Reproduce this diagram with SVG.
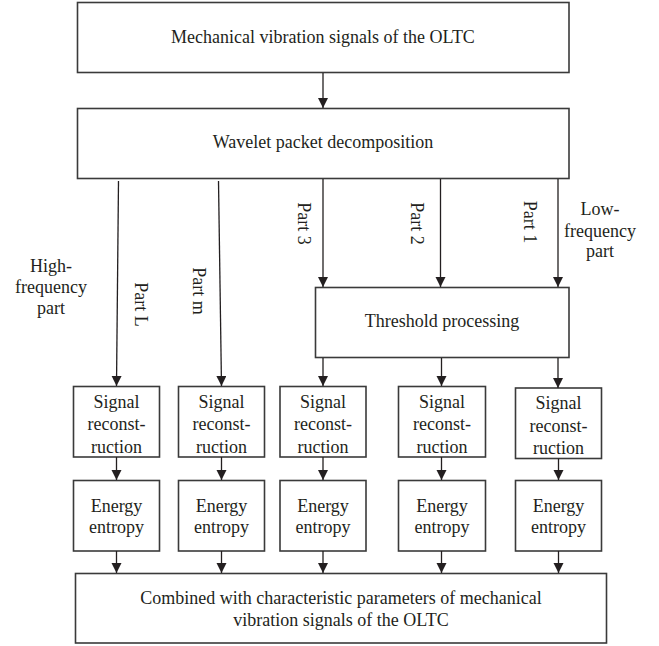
<svg xmlns="http://www.w3.org/2000/svg" width="659" height="646" viewBox="0 0 659 646">
<defs>
<marker id="ah" markerUnits="userSpaceOnUse" markerWidth="10" markerHeight="11" refX="10" refY="5" orient="auto">
<path d="M0,0 L10,5 L0,10 z" fill="#231f20"/>
</marker>
<style>
.box{fill:#fff;stroke:#3a3a3a;stroke-width:1.6}
.t{font-family:"Liberation Serif","Times New Roman",serif;font-size:18px;fill:#231f20;text-anchor:middle}
.c{stroke:#231f20;stroke-width:1.3;fill:none;marker-end:url(#ah)}
</style>
</defs>
<rect width="659" height="646" fill="#fff"/>

<g id="n-source">
<rect class="box" x="77.5" y="2.5" width="491.5" height="70"/>
<text class="t" x="323" y="43">Mechanical vibration signals of the OLTC</text>
</g>
<g id="n-wpd">
<rect class="box" x="77.5" y="108.5" width="491.5" height="70"/>
<text class="t" x="323" y="148">Wavelet packet decomposition</text>
</g>
<g id="n-threshold">
<rect class="box" x="315.5" y="287.5" width="253.5" height="70"/>
<text class="t" x="442" y="327">Threshold processing</text>
</g>

<g id="n-sr1"><rect class="box" x="73.5" y="386.5" width="86" height="70.5"/><text class="t" x="116.5" y="407.5">Signal</text><text class="t" x="116.5" y="430">reconst-</text><text class="t" x="116.5" y="452.5">ruction</text></g>
<g id="n-sr2"><rect class="box" x="178.5" y="386.5" width="86" height="70.5"/><text class="t" x="221.5" y="407.5">Signal</text><text class="t" x="221.5" y="430">reconst-</text><text class="t" x="221.5" y="452.5">ruction</text></g>
<g id="n-sr3"><rect class="box" x="280" y="386.5" width="86" height="70.5"/><text class="t" x="323" y="407.5">Signal</text><text class="t" x="323" y="430">reconst-</text><text class="t" x="323" y="452.5">ruction</text></g>
<g id="n-sr4"><rect class="box" x="398.5" y="386.5" width="87" height="70.5"/><text class="t" x="442" y="407.5">Signal</text><text class="t" x="442" y="430">reconst-</text><text class="t" x="442" y="452.5">ruction</text></g>
<g id="n-sr5"><rect class="box" x="515.5" y="388" width="86" height="70.5"/><text class="t" x="558.5" y="409">Signal</text><text class="t" x="558.5" y="431.5">reconst-</text><text class="t" x="558.5" y="454">ruction</text></g>

<g id="n-ee1"><rect class="box" x="73.5" y="480.5" width="86" height="70.5"/><text class="t" x="116.5" y="512">Energy</text><text class="t" x="116.5" y="533">entropy</text></g>
<g id="n-ee2"><rect class="box" x="178.5" y="480.5" width="86" height="70.5"/><text class="t" x="221.5" y="512">Energy</text><text class="t" x="221.5" y="533">entropy</text></g>
<g id="n-ee3"><rect class="box" x="280" y="480.5" width="86" height="70.5"/><text class="t" x="323" y="512">Energy</text><text class="t" x="323" y="533">entropy</text></g>
<g id="n-ee4"><rect class="box" x="398.5" y="480.5" width="87" height="70.5"/><text class="t" x="442" y="512">Energy</text><text class="t" x="442" y="533">entropy</text></g>
<g id="n-ee5"><rect class="box" x="515.5" y="480.5" width="86" height="70.5"/><text class="t" x="558.5" y="512">Energy</text><text class="t" x="558.5" y="533">entropy</text></g>

<g id="n-combined">
<rect class="box" x="75.5" y="573.5" width="531" height="69.5"/>
<text class="t" x="341" y="604">Combined with characteristic parameters of mechanical</text>
<text class="t" x="341" y="626">vibration signals of the OLTC</text>
</g>

<g id="labels">
<text class="t" x="51" y="272">High-</text>
<text class="t" x="51" y="293">frequency</text>
<text class="t" x="51" y="314">part</text>
<text class="t" x="600" y="215">Low-</text>
<text class="t" x="600" y="237">frequency</text>
<text class="t" x="600" y="257">part</text>
<text class="t" transform="translate(135,304.5) rotate(90)">Part L</text>
<text class="t" transform="translate(192.5,291) rotate(90)">Part m</text>
<text class="t" transform="translate(298,223.5) rotate(90)">Part 3</text>
<text class="t" transform="translate(411,223.5) rotate(90)">Part 2</text>
<text class="t" transform="translate(524,222) rotate(90)">Part 1</text>
</g>

<g id="connectors">
<line class="c" x1="323" y1="73" x2="323" y2="108"/>
<line class="c" x1="118.5" y1="181" x2="116.5" y2="386"/>
<line class="c" x1="218.5" y1="181" x2="221.5" y2="386"/>
<line class="c" x1="323" y1="179" x2="323" y2="287"/>
<line class="c" x1="440.5" y1="179" x2="440.5" y2="287"/>
<line class="c" x1="558" y1="179" x2="558" y2="287"/>
<line class="c" x1="323" y1="358" x2="323" y2="386"/>
<line class="c" x1="441.5" y1="358" x2="441.5" y2="386"/>
<line class="c" x1="558" y1="358" x2="558" y2="388"/>
<line class="c" x1="116.5" y1="457" x2="116.5" y2="480"/>
<line class="c" x1="221.5" y1="457" x2="221.5" y2="480"/>
<line class="c" x1="323" y1="457" x2="323" y2="480"/>
<line class="c" x1="441.5" y1="457" x2="441.5" y2="480"/>
<line class="c" x1="558.5" y1="458.5" x2="558.5" y2="480"/>
<line class="c" x1="116.5" y1="551" x2="116.5" y2="573"/>
<line class="c" x1="221.5" y1="551" x2="221.5" y2="573"/>
<line class="c" x1="323" y1="551" x2="323" y2="573"/>
<line class="c" x1="441.5" y1="551" x2="441.5" y2="573"/>
<line class="c" x1="558.5" y1="551" x2="558.5" y2="573"/>
</g>
</svg>
